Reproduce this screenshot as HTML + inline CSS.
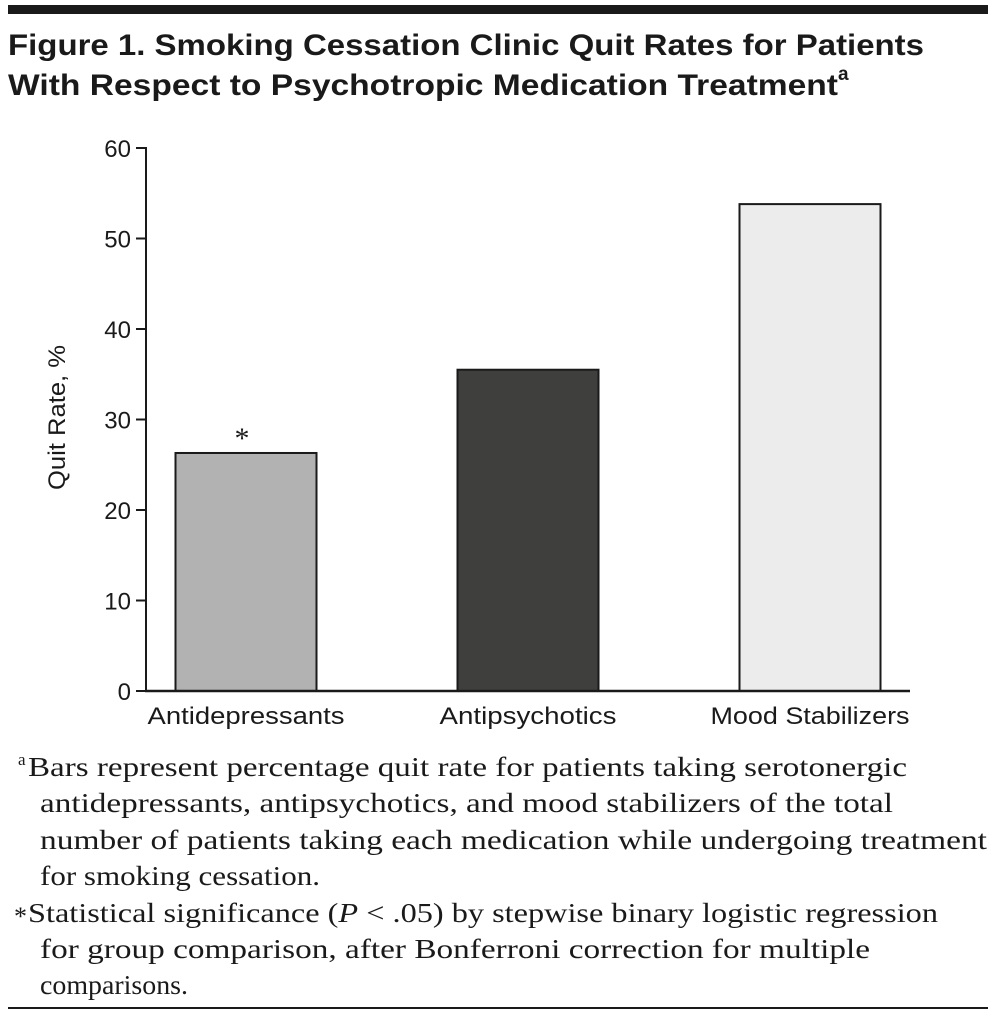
<!DOCTYPE html>
<html><head><meta charset="utf-8"><style>html,body{margin:0;padding:0;background:#fff}svg{display:block}</style></head>
<body>
<svg width="997" height="1021" viewBox="0 0 997 1021" xmlns="http://www.w3.org/2000/svg">
<rect x="8" y="5" width="980" height="9" fill="#1a1a1a"/>
<g font-family="Liberation Sans, sans-serif" font-weight="bold" font-size="30" fill="#1a1a1a">
<text x="8" y="55" textLength="916" lengthAdjust="spacingAndGlyphs">Figure 1. Smoking Cessation Clinic Quit Rates for Patients</text>
<text x="8" y="95" textLength="830" lengthAdjust="spacingAndGlyphs">With Respect to Psychotropic Medication Treatment</text>
<text x="838" y="80" font-size="19">a</text>
</g>
<g id="chart"></g>
<g font-family="Liberation Serif, serif" font-size="27" fill="#1a1a1a">
<text x="18" y="765" font-size="17">a</text>
<text x="28" y="776" textLength="879" lengthAdjust="spacingAndGlyphs">Bars represent percentage quit rate for patients taking serotonergic</text>
<text x="40" y="812" textLength="853" lengthAdjust="spacingAndGlyphs">antidepressants, antipsychotics, and mood stabilizers of the total</text>
<text x="40" y="849" textLength="947" lengthAdjust="spacingAndGlyphs">number of patients taking each medication while undergoing treatment</text>
<text x="40" y="885" textLength="280" lengthAdjust="spacingAndGlyphs">for smoking cessation.</text>
<text x="14" y="925" font-size="26">*</text>
<text x="28" y="922" textLength="910" lengthAdjust="spacingAndGlyphs">Statistical significance (<tspan font-style="italic">P</tspan> &lt; .05) by stepwise binary logistic regression</text>
<text x="40" y="958" textLength="830" lengthAdjust="spacingAndGlyphs">for group comparison, after Bonferroni correction for multiple</text>
<text x="40" y="994" textLength="148" lengthAdjust="spacingAndGlyphs">comparisons.</text>
</g>
<rect x="8" y="1007" width="980" height="2" fill="#1a1a1a"/>
</svg>
<script>
const categories = ["Antidepressants", "Antipsychotics", "Mood Stabilizers"];
const values = [26.3, 35.5, 53.8];
const fills = ["#b2b2b2", "#3f3f3d", "#ececec"];
const tickLabels = [0, 10, 20, 30, 40, 50, 60];
const significant = [true, false, false];
const labelWidths = [197, 177, 199];

const NS = "http://www.w3.org/2000/svg";
const g = document.getElementById("chart");
const y0 = 691, yTop = 148, xAxis = 146;
const yScale = v => y0 - (v / 60) * (y0 - yTop);
const xCenter = i => 246 + i * 282;
const barW = 141;
function mk(tag, attrs, parent) {
  const e = document.createElementNS(NS, tag);
  for (const k in attrs) e.setAttribute(k, attrs[k]);
  (parent || g).appendChild(e);
  return e;
}
categories.forEach((c, i) => {
  const r = mk("rect", {x: xCenter(i) - barW / 2, y: yScale(values[i]), width: barW, height: y0 - yScale(values[i]), fill: fills[i], stroke: "#1a1a1a", "stroke-width": 2});
  
  
  const t = mk("text", {x: xCenter(i) - labelWidths[i] / 2, y: 724, textLength: labelWidths[i], lengthAdjust: "spacingAndGlyphs", "font-family": "Liberation Sans, sans-serif", "font-size": 24, fill: "#1a1a1a"});
  t.textContent = c;
  
  
  if (significant[i]) {
    const s = mk("text", {x: xCenter(i) - 4, y: yScale(values[i]) - 5, "text-anchor": "middle", "font-family": "Liberation Serif, serif", "font-size": 30, fill: "#1a1a1a"});
    s.textContent = "*";
    
    
  }
});
tickLabels.forEach(v => {
  const l = mk("line", {x1: 136, x2: xAxis, y1: yScale(v), y2: yScale(v), stroke: "#1a1a1a", "stroke-width": 2});
  
  
  const t = mk("text", {x: 131, y: yScale(v) + 9, "text-anchor": "end", "font-family": "Liberation Sans, sans-serif", "font-size": 24, fill: "#1a1a1a"});
  t.textContent = v;
  
  
});
const ya = mk("line", {x1: xAxis, x2: xAxis, y1: yTop - 1, y2: y0 + 1, stroke: "#1a1a1a", "stroke-width": 2});


const xa = mk("line", {x1: xAxis - 1, x2: 910, y1: y0, y2: y0, stroke: "#1a1a1a", "stroke-width": 2.5});


const yt = mk("text", {x: -72, y: 0, transform: "translate(65,418) rotate(-90)", textLength: 145, lengthAdjust: "spacingAndGlyphs", "font-family": "Liberation Sans, sans-serif", "font-size": 24, fill: "#1a1a1a"});
yt.textContent = "Quit Rate, %";


</script>
</body></html>
